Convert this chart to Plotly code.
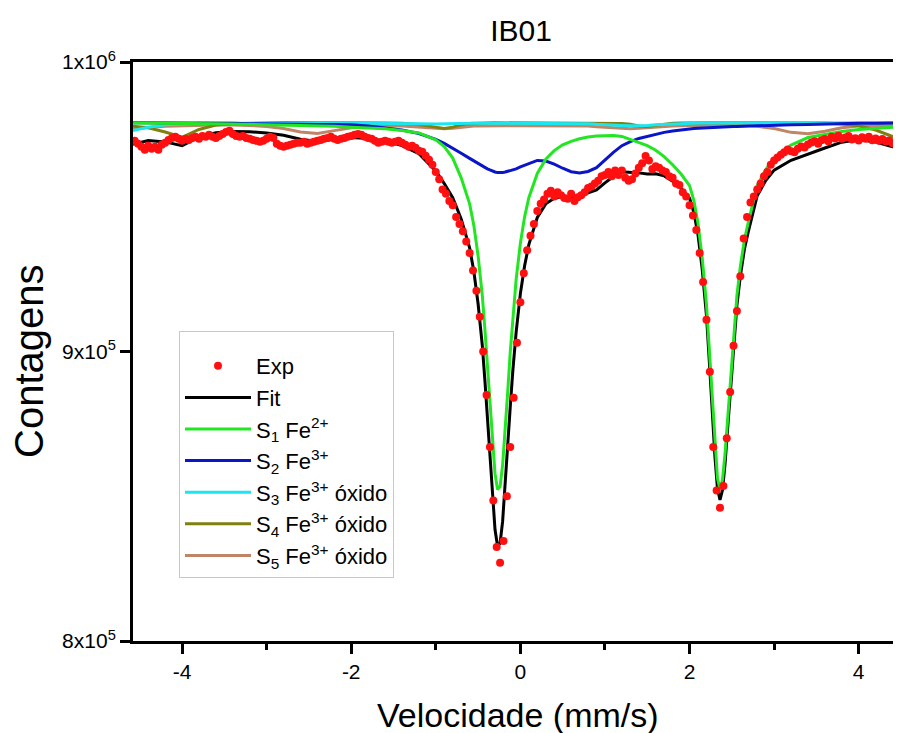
import plotly.graph_objects as go

# ---------------- data ----------------
velocity = [
    -4.56, -4.52, -4.48, -4.44, -4.40, -4.36, -4.32, -4.28, -4.24, -4.20,
    -4.16, -4.12, -4.08, -4.04, -4.00, -3.96, -3.92, -3.88, -3.84, -3.80,
    -3.76, -3.72, -3.68, -3.64, -3.60, -3.56, -3.52, -3.48, -3.44, -3.40,
    -3.36, -3.32, -3.28, -3.24, -3.20, -3.16, -3.12, -3.08, -3.04, -3.00,
    -2.96, -2.92, -2.88, -2.84, -2.80, -2.76, -2.72, -2.68, -2.64, -2.60,
    -2.56, -2.52, -2.48, -2.44, -2.40, -2.36, -2.32, -2.28, -2.24, -2.20,
    -2.16, -2.12, -2.08, -2.04, -2.00, -1.96, -1.92, -1.88, -1.84, -1.80,
    -1.76, -1.72, -1.68, -1.64, -1.60, -1.56, -1.52, -1.48, -1.44, -1.40,
    -1.36, -1.32, -1.28, -1.24, -1.20, -1.16, -1.12, -1.08, -1.04, -1.00,
    -0.96, -0.92, -0.88, -0.84, -0.80, -0.76, -0.72, -0.68, -0.64, -0.60,
    -0.56, -0.52, -0.48, -0.44, -0.40, -0.36, -0.32, -0.28, -0.24, -0.20,
    -0.16, -0.12, -0.08, -0.04, 0.00, 0.04, 0.08, 0.12, 0.16, 0.20,
    0.24, 0.28, 0.32, 0.36, 0.40, 0.44, 0.48, 0.52, 0.56, 0.60,
    0.64, 0.68, 0.72, 0.76, 0.80, 0.84, 0.88, 0.92, 0.96, 1.00,
    1.04, 1.08, 1.12, 1.16, 1.20, 1.24, 1.28, 1.32, 1.36, 1.40,
    1.44, 1.48, 1.52, 1.56, 1.60, 1.64, 1.68, 1.72, 1.76, 1.80,
    1.84, 1.88, 1.92, 1.96, 2.00, 2.04, 2.08, 2.12, 2.16, 2.20,
    2.24, 2.28, 2.32, 2.36, 2.40, 2.44, 2.48, 2.52, 2.56, 2.60,
    2.64, 2.68, 2.72, 2.76, 2.80, 2.84, 2.88, 2.92, 2.96, 3.00,
    3.04, 3.08, 3.12, 3.16, 3.20, 3.24, 3.28, 3.32, 3.36, 3.40,
    3.44, 3.48, 3.52, 3.56, 3.60, 3.64, 3.68, 3.72, 3.76, 3.80,
    3.84, 3.88, 3.92, 3.96, 4.00, 4.04, 4.08, 4.12, 4.16, 4.20,
    4.24, 4.28, 4.32, 4.36, 4.40, 4.44, 4.48,
]
counts = [
    972760, 971720, 970690, 969660, 971030, 970000, 970690, 969660, 971380, 972070,
    973100, 973790, 974140, 973450, 972760, 973450, 973100, 973790, 974140, 973450,
    974480, 974140, 974830, 974140, 973790, 974480, 975170, 975860, 976210, 975170,
    974480, 974140, 974480, 973790, 973450, 973100, 972760, 972410, 972760, 973450,
    974140, 973790, 971720, 971030, 970690, 971030, 971380, 971720, 972070, 972070,
    972410, 971720, 972070, 972410, 972760, 973100, 973450, 973790, 974140, 973450,
    973100, 973450, 973790, 974140, 974480, 974830, 975170, 974830, 974140, 973790,
    973450, 972760, 972070, 972410, 972760, 972410, 972070, 972410, 972760, 972070,
    971380, 970690, 971030, 970340, 969310, 968970, 967590, 966210, 964480, 962000,
    959500, 956000, 954500, 952000, 950500, 946500, 944000, 941500, 938000, 934000,
    928000, 921000, 912000, 900000, 885000, 867000, 848500, 832500, 827000, 834500,
    850000, 867000, 884000, 903000, 917000, 927000, 935000, 940000, 944000, 948500,
    951000, 952500, 954500, 955500, 953500, 955000, 954000, 953000, 952800, 954500,
    952000, 953300, 954000, 955000, 956500, 957000, 958000, 959000, 960500, 961000,
    962000, 960500, 962500, 961000, 962500, 960000, 959000, 959500, 961500, 963500,
    965000, 967500, 966000, 963000, 964000, 963500, 962500, 962000, 960500, 960000,
    958000, 957500, 955000, 953500, 950500, 947000, 942000, 934000, 924000, 911000,
    893000, 867000, 852000, 846000, 853500, 870000, 886000, 902000, 914000, 926000,
    939000, 946500, 951500, 953500, 956000, 958000, 960500, 962000, 964500, 966000,
    967000, 968000, 968800, 969800, 969200, 968800, 970000, 970800, 970500, 971500,
    972200, 972600, 971800, 973000, 973400, 972600, 974200, 973600, 974500, 973500,
    973900, 974400, 973200, 973700, 972900, 974000, 973500, 974200, 973000, 973600,
    972800, 973400, 972500, 972900, 971900, 972300, 971400,
]

curve_v = [
    -4.58, -4.4, -4.2, -4.0, -3.8, -3.6, -3.4, -3.2, -3.0, -2.8,
    -2.6, -2.4, -2.2, -2.0, -1.8, -1.6, -1.4, -1.2, -1.0, -0.9,
    -0.8, -0.7, -0.6, -0.55, -0.5, -0.45, -0.42, -0.39, -0.36, -0.33,
    -0.3, -0.27, -0.24, -0.21, -0.18, -0.15, -0.12, -0.09, -0.05, 0.0,
    0.05, 0.1, 0.2, 0.3, 0.4, 0.5, 0.6, 0.7, 0.8, 0.9,
    1.0, 1.1, 1.2, 1.3, 1.4, 1.5, 1.6, 1.7, 1.8, 1.9,
    2.0, 2.05, 2.1, 2.15, 2.2, 2.24, 2.27, 2.3, 2.33, 2.36,
    2.39, 2.42, 2.45, 2.48, 2.52, 2.56, 2.6, 2.65, 2.7, 2.8,
    2.9, 3.0, 3.2, 3.4, 3.6, 3.8, 4.0, 4.2, 4.4, 4.5,
]
fit = [
    971600, 972900, 972400, 971100, 974000, 975550, 976000, 975900, 975500, 974700,
    973300, 972550, 973300, 973900, 973600, 972750, 971100, 968300, 962400, 958000,
    953100, 945800, 935800, 927650, 916500, 902000, 890200, 877100, 863100, 849500,
    838500, 832800, 833700, 841300, 853300, 866900, 880800, 893100, 906700, 920000,
    929600, 936900, 946300, 951000, 952900, 953450, 953300, 953750, 954650, 955800,
    958250, 960450, 962050, 962000, 961700, 961350, 961400, 960650, 958850, 956350,
    952950, 948200, 940300, 928400, 912500, 893550, 877600, 863650, 852700, 848700,
    852250, 861300, 873300, 885850, 901900, 915950, 926000, 935550, 942050, 953800,
    959050, 962650, 966050, 968250, 970300, 972300, 973200, 972350, 970700, 970650,
]
s1_fe2 = [
    978900, 978900, 978800, 978800, 978700, 978700, 978600, 978500, 978400, 978300,
    978200, 978000, 977800, 977500, 977200, 976900, 976300, 975500, 973100, 970800,
    966800, 960000, 951000, 943500, 933100, 919300, 907900, 895300, 881700, 868500,
    857800, 852300, 853300, 860800, 872600, 886000, 899700, 911700, 924900, 937400,
    946500, 953100, 961500, 966400, 969400, 971400, 972600, 973500, 974100, 974400,
    974550, 974600, 974300, 973300, 972300, 971100, 969500, 967300, 964500, 961300,
    957300, 952300, 944300, 932300, 916300, 897300, 881300, 867300, 856300, 852300,
    855800, 864800, 876800, 889300, 905300, 919300, 929300, 938800, 945300, 957300,
    962800, 966800, 971300, 973900, 975000, 976000, 976700, 977100, 977500, 977600,
]
s2_fe3 = [
    979000, 979000, 978900, 978900, 978900, 978800, 978800, 978700, 978700, 978600,
    978500, 978450, 978400, 978300, 977900, 977300, 976500, 975300, 973300, 971900,
    970300, 968500, 966700, 965800, 964900, 964100, 963600, 963100, 962700, 962300,
    962000, 961800, 961700, 961800, 962000, 962200, 962400, 962700, 963100, 963800,
    964300, 965000, 966000, 965800, 964700, 963300, 962100, 961700, 962200, 963500,
    966300, 968800, 971100, 972500, 973600, 974300, 975100, 975700, 976200, 976600,
    976900, 977000, 977100, 977200, 977300, 977350, 977400, 977450, 977500, 977500,
    977550, 977600, 977600, 977650, 977700, 977750, 977800, 977850, 977900, 977950,
    978000, 978100, 978300, 978400, 978600, 978700, 978800, 978850, 978900, 978950,
]
s3_oxide = [
    976300, 977500, 978300, 978600, 978800, 978850, 978900, 978900, 978900, 978900,
    978900, 978900, 978900, 978900, 978900, 978850, 978800, 978700, 978600, 978600,
    978600, 978700, 978800, 978900, 978900, 978900, 978900, 978900, 978900, 978900,
    978900, 978900, 978900, 978900, 978900, 978900, 978900, 978900, 978900, 978900,
    978900, 978900, 978900, 978900, 978900, 978900, 978800, 978800, 978700, 978500,
    978300, 978200, 978100, 978000, 978000, 978100, 978300, 978500, 978600, 978700,
    978800, 978900, 978900, 978900, 978900, 978900, 978900, 978900, 978900, 978900,
    978900, 978900, 978900, 978900, 978900, 978900, 978900, 978900, 978900, 978900,
    978900, 978900, 978900, 978900, 978900, 978900, 979000, 979000, 979000, 979000,
]
s4_oxide = [
    977800, 977300, 975800, 974000, 976700, 978200, 978700, 978900, 979000, 979100,
    979100, 979100, 979100, 979100, 979000, 978900, 978800, 978400, 977500, 977000,
    977500, 978300, 978700, 978800, 978900, 978950, 979000, 979000, 979000, 979000,
    979000, 979000, 979000, 979000, 979000, 979000, 979000, 979000, 979000, 979000,
    979000, 979000, 979000, 979000, 979000, 979000, 979000, 979000, 979000, 978950,
    978900, 978850, 978750, 978500, 977900, 977700, 978100, 978600, 978850, 978950,
    979050, 979050, 979050, 979050, 979050, 979050, 979050, 979050, 979050, 979050,
    979050, 979050, 979050, 979050, 979050, 979050, 979050, 979050, 979050, 979050,
    979050, 979050, 979050, 979050, 978900, 978600, 978000, 976500, 974300, 974100,
]
s5_oxide = [
    976800, 977400, 977800, 978000, 978100, 978200, 978200, 978100, 977700, 977000,
    975800, 975300, 976300, 977300, 977800, 978000, 977900, 977600, 977100, 976900,
    977100, 977500, 977800, 977850, 977900, 977950, 978000, 978000, 978000, 978000,
    978000, 978000, 978000, 978000, 978000, 978000, 978000, 978000, 978000, 978100,
    978100, 978100, 978100, 978100, 978100, 978050, 978000, 977950, 977850, 977650,
    977400, 977200, 977000, 976900, 977100, 977350, 977600, 977750, 977900, 978000,
    978100, 978150, 978150, 978150, 978150, 978150, 978150, 978150, 978150, 978150,
    978150, 978150, 978150, 978150, 978150, 978150, 978150, 978150, 978100, 977800,
    977500, 977000, 975700, 975200, 976100, 977300, 977900, 978100, 978200, 978200,
]

series_names = [
    "Exp", "Fit",
    "S<sub>1</sub> Fe<sup>2+</sup>",
    "S<sub>2</sub> Fe<sup>3+</sup>",
    "S<sub>3</sub> Fe<sup>3+</sup> óxido",
    "S<sub>4</sub> Fe<sup>3+</sup> óxido",
    "S<sub>5</sub> Fe<sup>3+</sup> óxido",
]
x_ticks = [-4, -2, 0, 2, 4]
x_minor_ticks = [-3, -1, 1, 3]
y_ticks = [800000, 900000, 1000000]
y_tick_text = ["8x10<sup>5</sup>", "9x10<sup>5</sup>", "1x10<sup>6</sup>"]

# ---------------- styles ----------------
FONT = "Liberation Sans, Arial, sans-serif"
colors = {
    "exp": "#ff1010",
    "fit": "#000000",
    "s1": "#22e622",
    "s2": "#0a14c8",
    "s3": "#18e6f0",
    "s4": "#808010",
    "s5": "#c08466",
}

fig = go.Figure()

def add_line(y, name, color, rank):
    fig.add_trace(go.Scatter(
        x=curve_v, y=y, mode="lines", name=name,
        line=dict(color=color, width=3),
        legendgroup=name, legendrank=rank,
    ))

add_line(fit, series_names[1], colors["fit"], 2)
add_line(s5_oxide, series_names[6], colors["s5"], 7)
add_line(s4_oxide, series_names[5], colors["s4"], 6)
add_line(s3_oxide, series_names[4], colors["s3"], 5)
add_line(s2_fe3, series_names[3], colors["s2"], 4)
add_line(s1_fe2, series_names[2], colors["s1"], 3)

fig.add_trace(go.Scatter(
    x=velocity, y=counts, mode="markers", name=series_names[0],
    marker=dict(color=colors["exp"], size=8),
    legendgroup="exp", legendrank=1,
))

# The page body has an 8 px margin, so the figure is shifted by 8 px.
OFF = 8
W, H = 901 - OFF, 733 - OFF
PL, PR, PT, PB = 133, 901, 62, 641          # plot area in window pixels
L, R, T, B = PL - OFF, 0, PT - OFF, H - (PB - OFF)
PW, PH = PR - PL, PB - PT

def paper_x(px):
    return (px - PL) / PW

def paper_y(py):
    return (PB - py) / PH

fig.update_layout(
    width=W, height=H,
    margin=dict(l=L, r=R, t=T, b=B),
    paper_bgcolor="white", plot_bgcolor="white",
    font=dict(family=FONT, color="black", size=21),
    title=dict(text="IB01", x=(521 - OFF) / W, xref="container", xanchor="center",
               y=1 - (30 - OFF) / H, yref="container", yanchor="middle",
               font=dict(size=30, family=FONT, color="black")),
    showlegend=True,
    legend=dict(
        x=paper_x(179), y=paper_y(331),
        xanchor="left", yanchor="top",
        bgcolor="white", bordercolor="#c8c8c8", borderwidth=1,
        font=dict(size=22, family=FONT, color="black"),
        traceorder="grouped", tracegroupgap=0,
        itemwidth=66,
        title=dict(text="\u00a0", font=dict(size=10)),
    ),
    xaxis=dict(
        range=[-4.58, 4.50], tickvals=x_ticks, ticktext=[str(v) for v in x_ticks],
        showline=True, linecolor="black", linewidth=3, mirror=True,
        ticks="outside", ticklen=10, tickwidth=3, tickcolor="black",
        showgrid=False, zeroline=False,
        tickfont=dict(size=21, family=FONT),
        minor=dict(tickvals=x_minor_ticks, ticks="outside", ticklen=6,
                   tickwidth=3, tickcolor="black", showgrid=False),
    ),
    yaxis=dict(
        range=[800000, 1000000], tickvals=y_ticks, ticktext=y_tick_text,
        showline=True, linecolor="black", linewidth=3, mirror=False,
        ticks="outside", ticklen=10, tickwidth=3, tickcolor="black",
        showgrid=False, zeroline=False,
        tickfont=dict(size=21, family=FONT),
    ),
    annotations=[
        dict(text="Velocidade (mm/s)", xref="paper", yref="paper",
             x=paper_x(518), y=paper_y(715),
             xanchor="center", yanchor="middle", showarrow=False,
             font=dict(size=34, family=FONT, color="black")),
        dict(text="Contagens", xref="paper", yref="paper",
             x=paper_x(29), y=paper_y(362),
             xanchor="center", yanchor="middle", showarrow=False, textangle=-90,
             font=dict(size=40, family=FONT, color="black")),
    ],
)

fig.write_html("out.html")
